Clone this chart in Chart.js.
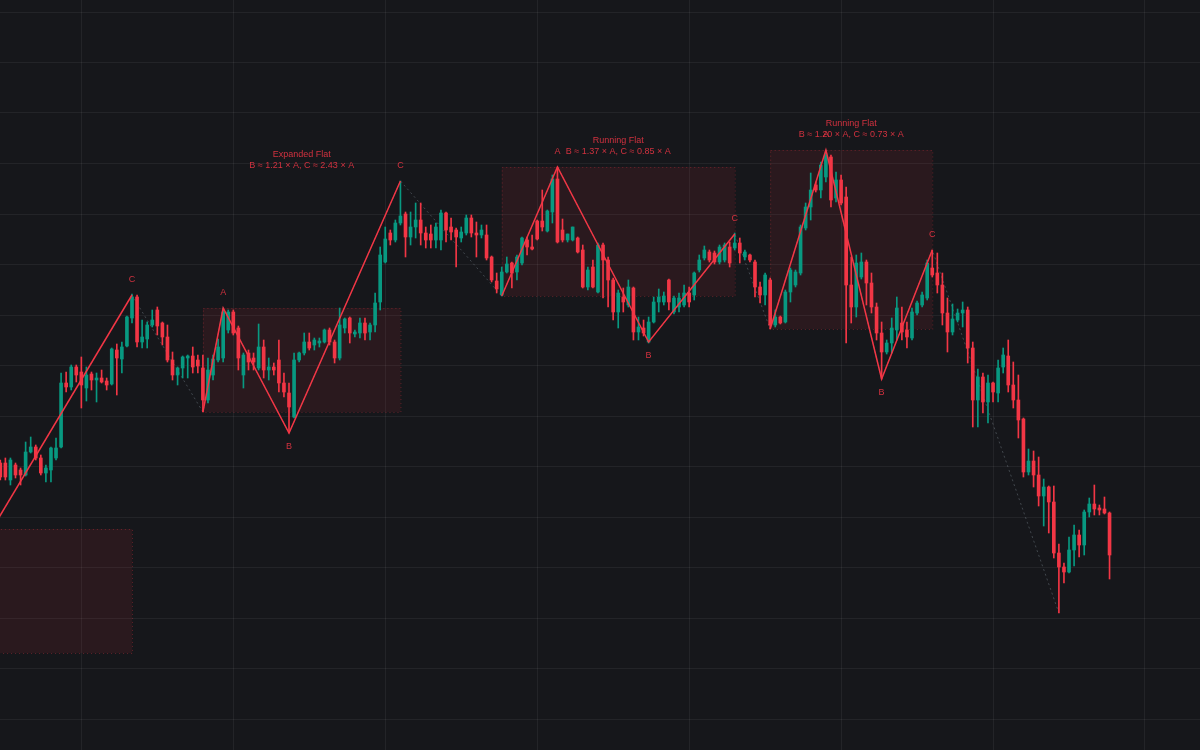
<!DOCTYPE html>
<html>
<head>
<meta charset="utf-8">
<script src="https://cdn.jsdelivr.net/npm/chart.js@4.4.0/dist/chart.umd.min.js"></script>
<style>
  html, body { margin: 0; padding: 0; background: #16171b; overflow: hidden; }
  canvas { display: block; }
</style>
</head>
<body>
<canvas id="chart-area" width="1200" height="750"></canvas>
<script>
// candle data, one value per bar (index 0..219)
var openArr = [
  33.7, 33.7, 32.0, 33.5, 33.0, 32.5, 34.8, 35.3, 34.2, 32.7,
  33.0, 34.2, 35.3, 41.7, 41.3, 43.3, 42.8, 41.2, 42.6, 42.0,
  42.2, 41.9, 41.6, 45.0, 44.1, 45.4, 48.2, 50.3, 45.8, 46.1,
  47.5, 49.0, 47.7, 46.3, 44.0, 42.5, 43.2, 44.2, 44.4, 44.0,
  43.2, 40.0, 42.5, 44.0, 44.2, 47.0, 48.8, 47.2, 42.5, 44.7,
  44.2, 43.2, 45.3, 43.0, 43.3, 44.0, 41.7, 40.7, 38.3, 44.0,
  44.7, 45.8, 45.5, 45.7, 45.8, 47.0, 45.8, 44.2, 47.2, 48.2,
  46.6, 46.7, 47.7, 46.8, 47.5, 49.8, 53.8, 56.7, 56.0, 57.7,
  58.6, 56.3, 57.3, 58.0, 56.7, 56.6, 56.0, 56.0, 58.7, 57.3,
  57.0, 56.2, 56.7, 58.2, 56.7, 56.5, 56.5, 54.3, 51.9, 50.5,
  52.8, 53.7, 52.8, 53.7, 56.0, 55.3, 57.9, 57.9, 56.9, 58.8,
  62.1, 57.0, 56.0, 56.0, 56.2, 55.0, 51.3, 53.3, 50.8, 55.5,
  54.0, 52.0, 48.8, 50.3, 49.5, 51.2, 46.8, 47.2, 45.8, 47.8,
  49.8, 49.8, 52.0, 48.8, 49.3, 49.5, 50.7, 50.5, 53.0, 54.2,
  54.8, 54.7, 53.8, 54.0, 55.3, 55.2, 55.7, 54.3, 54.5, 53.8,
  51.3, 50.5, 52.0, 47.5, 48.3, 47.8, 50.8, 51.5, 52.7, 57.2,
  59.3, 61.5, 61.0, 62.3, 64.3, 60.2, 62.0, 60.3, 51.5, 49.3,
  52.3, 53.8, 51.7, 49.3, 46.7, 44.8, 45.7, 47.0, 47.7, 47.0,
  46.2, 48.7, 49.5, 50.2, 53.2, 52.7, 51.5, 48.7, 46.8, 48.0,
  48.7, 49.0, 45.2, 40.0, 42.3, 39.8, 41.7, 40.7, 43.3, 44.4,
  41.5, 40.0, 38.1, 32.8, 33.9, 32.5, 30.4, 31.3, 29.8, 24.7,
  23.3, 22.8, 25.0, 26.5, 25.5, 28.8, 29.6, 29.2, 29.1, 28.7
];
var highArr = [
  34.0, 34.2, 34.2, 33.7, 33.2, 35.8, 36.3, 35.5, 34.5, 33.5,
  35.3, 36.2, 42.7, 42.8, 43.5, 43.5, 44.3, 43.3, 42.8, 42.7,
  43.0, 42.2, 45.2, 45.6, 45.8, 48.4, 50.6, 50.5, 48.0, 47.8,
  49.0, 49.3, 47.8, 47.5, 44.8, 43.3, 44.4, 44.5, 45.3, 44.5,
  44.5, 44.2, 44.5, 46.1, 49.2, 49.0, 49.0, 47.4, 44.7, 45.0,
  44.7, 47.6, 46.0, 44.2, 43.7, 46.0, 42.7, 41.7, 44.7, 44.8,
  46.7, 46.7, 46.2, 46.2, 47.1, 47.2, 46.0, 49.2, 48.2, 48.3,
  47.0, 48.2, 48.2, 47.7, 50.7, 55.3, 57.3, 57.0, 58.0, 61.9,
  58.8, 58.8, 59.7, 59.7, 57.3, 57.5, 57.7, 59.0, 58.8, 58.2,
  57.2, 57.3, 58.5, 58.5, 57.8, 57.5, 57.5, 54.4, 52.7, 53.3,
  54.3, 53.8, 54.5, 56.3, 56.3, 56.5, 58.0, 61.0, 59.0, 62.5,
  63.3, 58.1, 56.6, 57.3, 56.3, 55.5, 53.3, 54.0, 55.7, 55.7,
  54.3, 52.2, 51.0, 51.2, 52.0, 51.3, 48.3, 48.0, 48.3, 50.3,
  51.1, 50.8, 52.1, 50.4, 50.7, 51.5, 51.3, 52.8, 54.5, 55.4,
  55.0, 54.9, 55.5, 55.7, 55.8, 56.7, 56.2, 55.0, 54.6, 54.0,
  51.8, 52.7, 52.2, 49.0, 48.4, 51.0, 53.2, 53.0, 57.5, 59.7,
  62.7, 61.8, 63.8, 65.0, 64.5, 62.8, 62.5, 61.3, 54.3, 54.5,
  54.7, 54.0, 52.7, 49.7, 47.8, 46.0, 48.2, 50.3, 49.3, 47.8,
  49.2, 49.9, 50.8, 54.0, 55.0, 54.7, 52.7, 50.2, 49.6, 49.1,
  49.8, 49.3, 45.8, 43.1, 42.7, 42.5, 41.8, 44.0, 45.2, 46.0,
  43.8, 42.5, 38.2, 35.1, 34.9, 34.3, 32.1, 31.4, 31.4, 25.6,
  23.7, 26.3, 27.5, 27.0, 29.0, 30.2, 31.5, 29.5, 30.3, 28.8
];
var lowArr = [
  32.0, 32.0, 31.5, 32.2, 31.5, 32.4, 34.7, 34.0, 32.5, 31.8,
  31.8, 34.0, 35.2, 40.8, 41.0, 41.8, 39.2, 39.9, 41.0, 39.8,
  41.7, 41.0, 41.5, 40.5, 42.7, 45.3, 47.7, 45.3, 45.2, 45.2,
  47.3, 46.5, 45.5, 43.8, 42.0, 41.5, 42.2, 42.2, 42.7, 42.7,
  38.8, 39.7, 42.0, 43.8, 43.8, 46.7, 46.5, 43.0, 41.2, 43.0,
  43.0, 43.0, 42.2, 42.0, 42.5, 40.8, 40.3, 36.7, 38.2, 43.8,
  44.5, 45.0, 45.0, 45.3, 45.7, 45.5, 43.7, 44.0, 46.7, 45.7,
  46.3, 46.2, 46.0, 46.0, 46.8, 49.0, 53.7, 55.5, 55.8, 57.5,
  54.3, 55.5, 56.2, 55.5, 55.2, 55.2, 55.2, 55.0, 55.8, 56.0,
  53.3, 55.8, 56.5, 56.3, 54.3, 56.2, 54.0, 51.8, 50.7, 50.4,
  52.7, 51.2, 52.0, 53.5, 54.5, 55.0, 56.0, 56.9, 56.8, 57.7,
  55.7, 55.8, 55.8, 55.9, 54.7, 51.2, 51.0, 51.2, 50.7, 50.2,
  49.3, 48.0, 47.2, 48.8, 49.3, 46.0, 46.0, 46.4, 45.7, 47.7,
  48.8, 49.5, 49.0, 48.6, 48.8, 49.3, 49.3, 50.0, 52.8, 54.0,
  53.8, 53.6, 53.6, 53.8, 53.3, 55.0, 53.7, 54.0, 53.8, 50.3,
  49.7, 49.5, 47.1, 47.3, 47.6, 47.7, 49.8, 51.3, 52.5, 57.0,
  58.0, 60.8, 60.2, 61.8, 59.3, 59.8, 59.5, 45.7, 47.7, 48.3,
  52.1, 49.5, 48.7, 46.0, 42.1, 44.6, 44.7, 46.0, 46.0, 45.2,
  46.0, 48.5, 49.3, 50.0, 52.3, 50.7, 47.5, 44.8, 46.5, 47.8,
  47.3, 43.7, 37.3, 37.3, 38.7, 37.7, 39.8, 39.8, 42.7, 40.8,
  39.2, 36.2, 32.3, 32.5, 31.3, 29.4, 27.4, 26.7, 24.2, 18.7,
  21.7, 22.7, 23.4, 24.3, 24.5, 28.3, 28.5, 28.5, 28.6, 22.1
];
var closeArr = [
  32.3, 32.3, 34.0, 32.5, 32.5, 34.8, 35.3, 34.2, 32.7, 33.2,
  35.2, 35.2, 41.7, 41.3, 43.3, 42.5, 41.5, 42.5, 42.0, 42.2,
  41.8, 41.5, 45.1, 44.2, 45.3, 48.3, 50.3, 45.8, 46.3, 47.5,
  48.0, 47.4, 46.3, 44.0, 42.5, 43.2, 44.3, 44.4, 43.3, 43.4,
  40.0, 43.0, 44.1, 45.3, 48.8, 48.8, 46.7, 44.2, 44.5, 43.8,
  43.8, 45.3, 43.0, 43.3, 43.0, 41.7, 40.8, 39.3, 44.0, 44.7,
  45.8, 45.2, 46.0, 45.9, 47.0, 45.8, 44.2, 47.5, 48.1, 46.7,
  46.8, 47.7, 46.7, 47.5, 49.7, 54.5, 56.1, 56.0, 57.7, 58.4,
  56.3, 57.3, 58.0, 56.7, 56.0, 56.0, 57.3, 58.7, 57.0, 56.8,
  56.3, 56.8, 58.2, 56.7, 56.5, 57.0, 54.2, 52.0, 51.1, 52.8,
  53.6, 52.7, 54.3, 56.2, 55.3, 55.1, 56.1, 57.3, 58.9, 62.1,
  55.8, 56.0, 56.6, 57.3, 54.8, 51.3, 53.0, 51.3, 55.5, 54.0,
  52.0, 48.8, 50.7, 49.8, 51.3, 46.8, 47.3, 46.7, 47.8, 49.8,
  50.3, 50.4, 49.8, 50.2, 50.2, 50.7, 49.8, 52.7, 54.0, 55.0,
  54.0, 53.8, 55.3, 55.5, 53.7, 55.7, 54.7, 54.8, 54.0, 51.3,
  50.5, 52.5, 47.5, 48.3, 47.7, 50.8, 53.0, 52.8, 57.3, 59.3,
  61.0, 61.0, 63.5, 64.5, 60.0, 62.0, 59.7, 51.5, 49.3, 53.7,
  53.8, 51.7, 49.3, 46.7, 44.8, 45.7, 47.2, 49.2, 46.8, 46.3,
  48.8, 49.7, 50.5, 53.7, 52.5, 51.5, 48.7, 46.8, 48.1, 48.7,
  49.0, 45.2, 40.0, 42.3, 39.8, 41.7, 40.8, 43.2, 44.5, 41.5,
  40.0, 38.0, 32.8, 33.9, 32.5, 30.4, 31.3, 29.8, 24.7, 23.3,
  22.8, 25.0, 26.5, 25.5, 28.8, 29.6, 29.1, 29.0, 28.7, 24.5
];

// swing points of the zigzag (bar index, price)
var zzX = [-60, -45, -12, 26, 40, 44, 57, 79, 99, 110, 128, 145, 152, 163, 174, 184, 209];
var zzY = [14.7, 27.1, 18.3, 50.5, 38.8, 49.2, 36.7, 61.9, 50.4, 63.3, 45.8, 56.6, 47.1, 65.0, 42.1, 55.0, 18.7];

// flats found: start, A, B, C as index into zzX / zzY
var flatStart = [0, 4, 8, 12];
var flatA = [1, 5, 9, 13];
var flatB = [2, 6, 10, 14];
var flatC = [3, 7, 11, 15];
var flatName = ['', 'Expanded Flat', 'Running Flat', 'Running Flat'];
var flatRatio = ['', 'B \u2248 1.21 \u00d7 A, C \u2248 2.43 \u00d7 A', 'B \u2248 1.37 \u00d7 A, C \u2248 0.85 \u00d7 A', 'B \u2248 1.20 \u00d7 A, C \u2248 0.73 \u00d7 A'];

// grid positions
var xGrid = [16, 46, 76, 106, 136, 166, 196, 226];
var yGrid = [78.8, 73.75, 68.7, 63.65, 58.6, 53.55, 48.5, 43.45, 38.4, 33.35, 28.3, 23.25, 18.2, 13.15, 8.1];

var UP = '#089981';
var DOWN = '#f23645';
var FLAT_RED = '#f23645';
var LABEL_RED = 'rgba(242, 54, 69, 0.85)';
var FONT = '9px "Liberation Sans", Arial, sans-serif';

// candle bodies and wicks as floating bars
var wickData = [];
var bodyData = [];
var candleColor = [];
for (var i = 0; i < openArr.length; i++) {
  wickData.push({x: i, y: [lowArr[i], highArr[i]]});
  bodyData.push({x: i, y: [openArr[i], closeArr[i]]});
  candleColor.push(closeArr[i] >= openArr[i] ? UP : DOWN);
}

// faint zigzag through every swing
var zzData = [];
for (var i = 0; i < zzX.length; i++) {
  zzData.push({x: zzX[i], y: zzY[i]});
}

var datasets = [
  {
    type: 'line', data: zzData, borderColor: 'rgba(120, 130, 140, 0.45)',
    borderWidth: 1, borderDash: [2, 3], pointRadius: 0, order: 5
  },
  {
    type: 'bar', data: wickData, backgroundColor: candleColor,
    barThickness: 1, grouped: false, order: 4
  },
  {
    type: 'bar', data: bodyData, backgroundColor: candleColor,
    barThickness: 3, grouped: false, minBarLength: 1, order: 3
  }
];

// red legs of each flat
for (var k = 0; k < flatStart.length; k++) {
  var pts = [flatStart[k], flatA[k], flatB[k], flatC[k]].map(function (p) {
    return {x: zzX[p], y: zzY[p]};
  });
  datasets.push({
    type: 'line', data: pts, borderColor: FLAT_RED, borderWidth: 1.5,
    pointRadius: 0, order: 1
  });
}

// boxes behind candles, labels on top
var flatPlugin = {
  id: 'flats',
  beforeDatasetsDraw: function (chart) {
    var c = chart.ctx, xs = chart.scales.x, ys = chart.scales.y;
    c.save();
    for (var k = 0; k < flatStart.length; k++) {
      var x1 = xs.getPixelForValue(zzX[flatStart[k]]);
      var x2 = xs.getPixelForValue(zzX[flatC[k]]);
      var y1 = ys.getPixelForValue(zzY[flatA[k]]);
      var y2 = ys.getPixelForValue(zzY[flatStart[k]]);
      c.fillStyle = 'rgba(242, 54, 69, 0.09)';
      c.fillRect(x1, y1, x2 - x1, y2 - y1);
      c.strokeStyle = 'rgba(242, 54, 69, 0.35)';
      c.lineWidth = 1;
      c.setLineDash([1, 3]);
      c.strokeRect(x1 + 0.5, y1 + 0.5, x2 - x1, y2 - y1);
    }
    c.restore();
  },
  afterDatasetsDraw: function (chart) {
    var c = chart.ctx, xs = chart.scales.x, ys = chart.scales.y;
    c.save();
    c.font = FONT;
    c.fillStyle = LABEL_RED;
    c.textAlign = 'center';
    c.textBaseline = 'middle';
    for (var k = 0; k < flatStart.length; k++) {
      var xa = xs.getPixelForValue(zzX[flatA[k]]), ya = ys.getPixelForValue(zzY[flatA[k]]);
      var xb = xs.getPixelForValue(zzX[flatB[k]]), yb = ys.getPixelForValue(zzY[flatB[k]]);
      var xc = xs.getPixelForValue(zzX[flatC[k]]), yc = ys.getPixelForValue(zzY[flatC[k]]);
      var x1 = xs.getPixelForValue(zzX[flatStart[k]]);
      c.fillText('A', xa, ya - 15);
      c.fillText('B', xb, yb + 14);
      c.fillText('C', xc, yc - 15);
      var top = Math.min(ya, yc);
      var mid = (x1 + xc) / 2;
      if (flatName[k]) c.fillText(flatName[k], mid, top - 26);
      if (flatRatio[k]) c.fillText(flatRatio[k], mid, top - 15);
    }
    c.restore();
  }
};

var ctx = document.getElementById('chart-area');
var myChart = new Chart(ctx, {
  type: 'bar',
  data: { datasets: datasets },
  options: {
    responsive: false,
    animation: false,
    devicePixelRatio: 1,
    layout: { padding: 0 },
    plugins: { legend: { display: false }, tooltip: { enabled: false } },
    scales: {
      x: {
        type: 'linear', min: -0.06, max: 236.86, offset: false,
        afterBuildTicks: function (s) { s.ticks = xGrid.map(function (v) { return {value: v}; }); },
        ticks: { display: false },
        grid: { color: 'rgba(255, 255, 255, 0.06)', drawTicks: false, offset: false },
        border: { display: false }
      },
      y: {
        type: 'linear', min: 5, max: 80,
        afterBuildTicks: function (s) { s.ticks = yGrid.map(function (v) { return {value: v}; }); },
        ticks: { display: false },
        grid: { color: 'rgba(255, 255, 255, 0.06)', drawTicks: false },
        border: { display: false }
      }
    }
  },
  plugins: [flatPlugin]
});
</script>
</body>
</html>
